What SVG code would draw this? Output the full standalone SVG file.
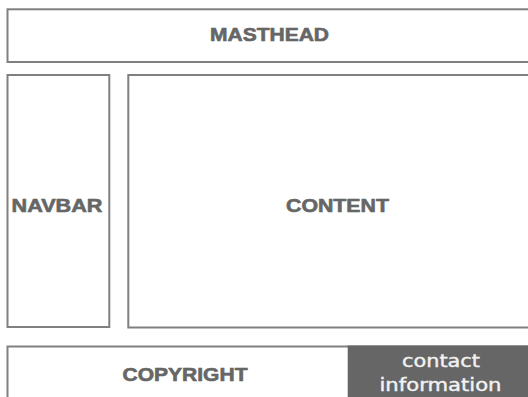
<svg xmlns="http://www.w3.org/2000/svg" width="528" height="397" viewBox="0 0 528 397">
<style>
.box{fill:#fff;stroke:#808080;stroke-width:2}
.lbl{font-family:"Liberation Sans",Arial,sans-serif;font-weight:bold;font-size:18px;fill:#666;stroke:#666;stroke-width:0.6;text-anchor:middle}
.dark{fill:#666;stroke:none}
.wlbl{font-family:"DejaVu Sans","Liberation Sans",sans-serif;font-size:17px;fill:#f2f2f2;stroke:#f2f2f2;stroke-width:0.4;text-anchor:middle}
</style>
<rect width="528" height="397" fill="#fff"/>
<g id="masthead">
<rect class="box" x="7.5" y="9.3" width="530" height="52.7"/>
<text class="lbl" x="269.5" y="40.5" textLength="119" lengthAdjust="spacingAndGlyphs">MASTHEAD</text>
</g>
<g id="navbar">
<rect class="box" x="7.5" y="75" width="101.8" height="252"/>
<text class="lbl" x="57" y="212" textLength="91" lengthAdjust="spacingAndGlyphs">NAVBAR</text>
</g>
<g id="content">
<rect class="box" x="128.3" y="75" width="410" height="252.5"/>
<text class="lbl" x="337.5" y="212" textLength="103" lengthAdjust="spacingAndGlyphs">CONTENT</text>
</g>
<g id="copyright">
<rect class="box" x="7.5" y="346.5" width="530" height="60"/>
<text class="lbl" x="185" y="381" textLength="125" lengthAdjust="spacingAndGlyphs">COPYRIGHT</text>
</g>
<g id="contact">
<rect class="dark" x="347.7" y="345.5" width="181" height="52"/>
<text class="wlbl" x="441" y="367" textLength="78" lengthAdjust="spacingAndGlyphs">contact</text>
<text class="wlbl" x="440.5" y="390.5" textLength="122" lengthAdjust="spacingAndGlyphs">information</text>
</g>
<g id="connectors"/>
</svg>
